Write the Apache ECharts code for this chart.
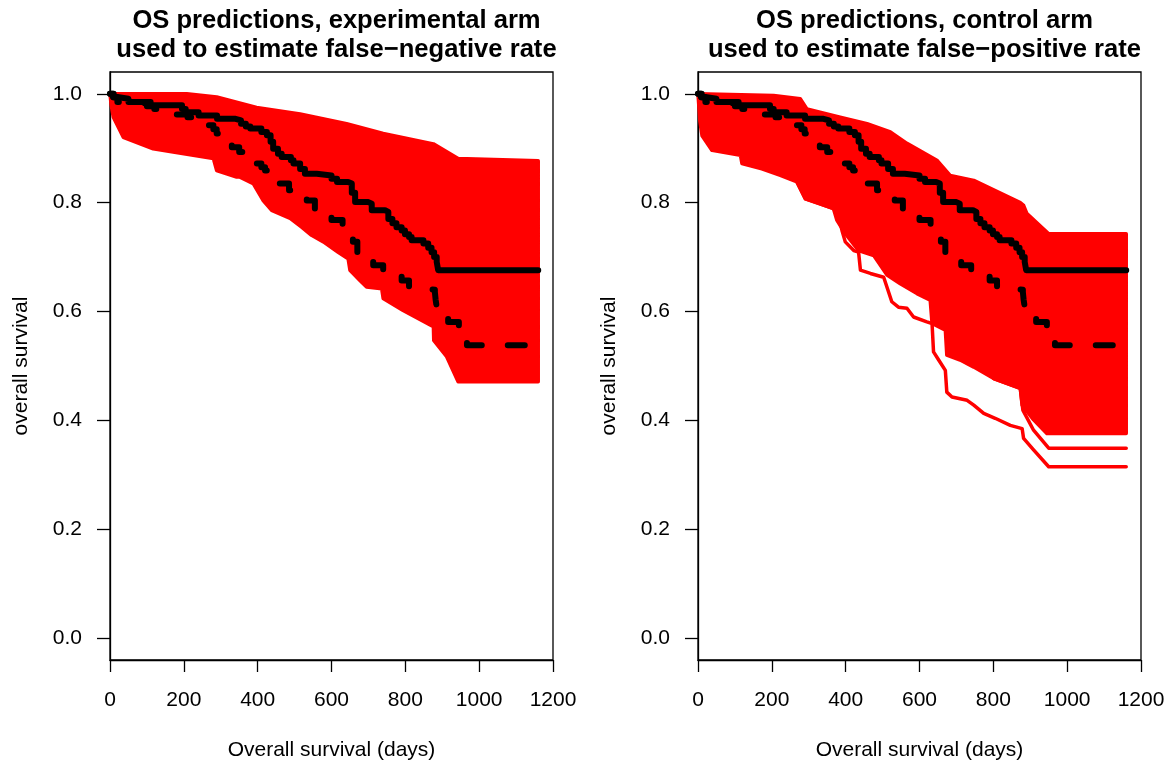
<!DOCTYPE html>
<html>
<head>
<meta charset="utf-8">
<script src="https://cdn.jsdelivr.net/npm/echarts@6/dist/echarts.min.js"></script>
<style>
html,body{margin:0;padding:0;background:#fff;}
#chart{width:1175px;height:767px;}
</style>
</head>
<body>
<div id="chart"></div>
<script>
// ---------- data ----------
const titleLeft = "OS predictions, experimental arm\nused to estimate false\u2212negative rate";
const titleRight = "OS predictions, control arm\nused to estimate false\u2212positive rate";
const xAxisName = "Overall survival (days)";
const yAxisName = "overall survival";
const xTickValues = [0, 200, 400, 600, 800, 1000, 1200];
const yTickValues = [0.0, 0.2, 0.4, 0.6, 0.8, 1.0];

// observed KM (solid black), same in both panels: [days, survival]
const kmSolid = [[0,1.0],[8,0.994],[20,0.991],[50,0.985],[110,0.979],[195,0.972],[205,0.966],[240,0.960],[290,0.954],[340,0.951],[355,0.945],[368,0.940],[380,0.936],[410,0.930],[425,0.924],[435,0.912],[442,0.899],[455,0.890],[465,0.884],[490,0.878],[497,0.872],[515,0.862],[528,0.853],[560,0.850],[600,0.844],[615,0.838],[645,0.835],[655,0.818],[664,0.801],[700,0.798],[709,0.786],[745,0.783],[754,0.770],[765,0.762],[776,0.755],[790,0.749],[799,0.742],[810,0.737],[817,0.731],[849,0.725],[862,0.717],[871,0.709],[878,0.700],[885,0.691],[889,0.676],[1160,0.676]];
// second KM (dashed black), same in both panels
const kmDashed = [[0,1.0],[10,0.993],[20,0.985],[60,0.982],[100,0.977],[120,0.972],[150,0.967],[180,0.962],[210,0.957],[240,0.950],[265,0.942],[280,0.935],[289,0.927],[310,0.915],[330,0.902],[350,0.893],[375,0.883],[397,0.872],[410,0.865],[420,0.859],[440,0.847],[460,0.835],[485,0.823],[510,0.814],[533,0.804],[555,0.789],[575,0.778],[600,0.768],[630,0.758],[650,0.740],[658,0.728],[670,0.706],[690,0.695],[713,0.685],[740,0.676],[765,0.667],[790,0.657],[810,0.642],[850,0.640],[880,0.636],[882,0.622],[885,0.608],[900,0.595],[916,0.581],[945,0.572],[960,0.555],[967,0.538],[1160,0.538]];

// envelope of the predicted (red) curves, experimental arm
const expUpper = [[0,1.0],[208,1.0],[289,0.994],[397,0.975],[515,0.963],[641,0.945],[740,0.927],[876,0.908],[943,0.881],[1160,0.877]];
const expLower = [[0,1.0],[3,0.98],[9,0.957],[36,0.92],[117,0.899],[171,0.893],[280,0.881],[289,0.859],[343,0.847],[352,0.847],[388,0.835],[415,0.804],[438,0.786],[488,0.771],[519,0.755],[546,0.740],[578,0.728],[618,0.709],[645,0.697],[650,0.676],[677,0.657],[695,0.645],[736,0.642],[740,0.624],[794,0.602],[876,0.572],[877,0.547],[912,0.517],[943,0.471],[1160,0.471]];

// envelope of the predicted (red) curves, control arm
const ctlUpper = [[0,1.0],[205,0.997],[277,0.991],[295,0.972],[385,0.957],[458,0.945],[521,0.930],[566,0.909],[647,0.878],[683,0.850],[747,0.841],[873,0.800],[882,0.795],[891,0.780],[950,0.743],[1160,0.743]];
const ctlLower = [[0,1.0],[5,0.95],[11,0.923],[38,0.896],[115,0.887],[119,0.872],[173,0.862],[223,0.850],[268,0.838],[291,0.807],[331,0.798],[367,0.789],[376,0.768],[399,0.743],[435,0.712],[476,0.703],[512,0.667],[548,0.651],[593,0.633],[629,0.621],[634,0.578],[670,0.566],[674,0.520],[710,0.511],[747,0.498],[801,0.477],[873,0.459],[878,0.428],[909,0.401],[945,0.376],[1160,0.376]];
// two outlying predicted curves, control arm
const ctlCurveA = [[268,0.838],[291,0.807],[367,0.789],[381,0.777],[390,0.749],[399,0.728],[422,0.712],[435,0.709],[440,0.676],[467,0.670],[503,0.663],[525,0.618],[543,0.608],[566,0.606],[584,0.590],[620,0.581],[634,0.578],[638,0.526],[652,0.511],[670,0.492],[674,0.452],[688,0.443],[729,0.437],[747,0.428],[774,0.413],[805,0.404],[846,0.391],[878,0.385],[882,0.367],[909,0.346],[950,0.315],[1160,0.315]];
const ctlCurveB = [[801,0.477],[873,0.459],[880,0.419],[909,0.382],[950,0.349],[1160,0.349]];

// ---------- chart ----------
const FONT = "'Liberation Sans', Arial, Helvetica, sans-serif";
const RED = '#ff0000';
const chart = echarts.init(document.getElementById('chart'), null, {renderer: 'canvas'});

function bandSeries(upper, lower, axisIndex) {
  return {
    type: 'custom',
    xAxisIndex: axisIndex, yAxisIndex: axisIndex,
    silent: true,
    clip: false,
    data: [[0, 1]],
    renderItem: function (params, api) {
      const pts = [];
      upper.forEach(p => pts.push(api.coord(p)));
      for (let i = lower.length - 1; i >= 0; i--) pts.push(api.coord(lower[i]));
      return {
        type: 'polygon',
        shape: {points: pts},
        style: {fill: RED, stroke: RED, lineWidth: 3.5, lineJoin: 'round'}
      };
    },
    z: 2
  };
}
function redLine(data, axisIndex) {
  return {
    type: 'line', xAxisIndex: axisIndex, yAxisIndex: axisIndex,
    data: data, showSymbol: false, symbol: 'none', silent: true,
    lineStyle: {color: RED, width: 3.5, join: 'round', cap: 'round'}, z: 3
  };
}
function kmLine(data, axisIndex, dashed) {
  return {
    type: 'line', xAxisIndex: axisIndex, yAxisIndex: axisIndex,
    data: data, step: 'end', showSymbol: false, symbol: 'none', silent: true,
    lineStyle: {color: '#000', width: 6, type: dashed ? [17, 26] : 'solid', cap: 'round', join: 'round'},
    z: dashed ? 5 : 4
  };
}
function xAxisCfg(gi) {
  return {
    gridIndex: gi, type: 'value', min: 0, max: 1200,
    name: xAxisName, nameLocation: 'middle', nameGap: 80,
    nameTextStyle: {fontFamily: FONT, fontSize: 21, color: '#000'},
    axisLine: {show: true, onZero: false, lineStyle: {color: '#000', width: 1.3}},
    axisTick: {show: true, length: 12, customValues: xTickValues, lineStyle: {color: '#000', width: 1.3}},
    axisLabel: {show: true, customValues: xTickValues, margin: 30, fontFamily: FONT, fontSize: 21, color: '#000',
      formatter: v => String(v), showMinLabel: true, showMaxLabel: true},
    splitLine: {show: false}
  };
}
function yAxisCfg(gi) {
  return {
    gridIndex: gi, type: 'value', min: -0.04, max: 1.04,
    name: yAxisName, nameLocation: 'middle', nameGap: 78,
    nameTextStyle: {fontFamily: FONT, fontSize: 21, color: '#000'},
    axisLine: {show: true, onZero: false, lineStyle: {color: '#000', width: 1.3}},
    axisTick: {show: true, length: 13, customValues: yTickValues, lineStyle: {color: '#000', width: 1.3}},
    axisLabel: {show: true, customValues: yTickValues, margin: 28, fontFamily: FONT, fontSize: 21, color: '#000',
      formatter: v => Number(v).toFixed(1), showMinLabel: true, showMaxLabel: true},
    splitLine: {show: false}
  };
}

const option = {
  animation: false,
  backgroundColor: '#fff',
  title: [
    {text: titleLeft, left: 331.5, top: 1, textAlign: 'center',
     textStyle: {fontFamily: FONT, fontSize: 25.6, fontWeight: 'bold', color: '#000', lineHeight: 29}},
    {text: titleRight, left: 919.5, top: 1, textAlign: 'center',
     textStyle: {fontFamily: FONT, fontSize: 25.6, fontWeight: 'bold', color: '#000', lineHeight: 29}}
  ],
  grid: [
    {left: 110, top: 72, width: 443, height: 588, show: true, borderColor: '#000', borderWidth: 1.3, backgroundColor: 'transparent'},
    {left: 698, top: 72, width: 443, height: 588, show: true, borderColor: '#000', borderWidth: 1.3, backgroundColor: 'transparent'}
  ],
  xAxis: [xAxisCfg(0), xAxisCfg(1)],
  yAxis: [yAxisCfg(0), yAxisCfg(1)],
  series: [
    bandSeries(expUpper, expLower, 0),
    kmLine(kmSolid, 0, false),
    kmLine(kmDashed, 0, true),
    bandSeries(ctlUpper, ctlLower, 1),
    redLine(ctlCurveA, 1),
    redLine(ctlCurveB, 1),
    kmLine(kmSolid, 1, false),
    kmLine(kmDashed, 1, true)
  ]
};
chart.setOption(option);
</script>
</body>
</html>
